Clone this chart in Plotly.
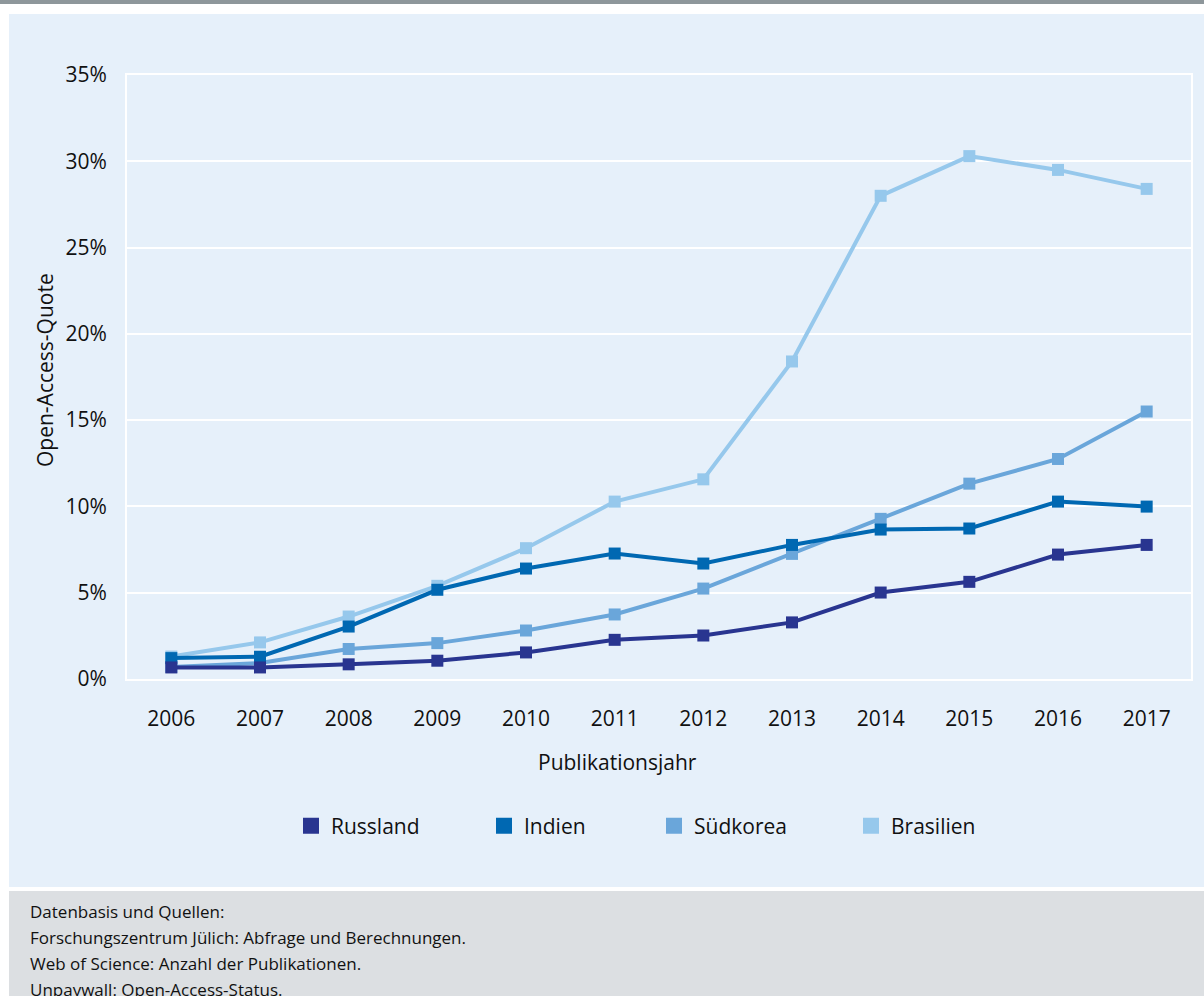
import plotly.graph_objects as go

years = ["2006", "2007", "2008", "2009", "2010", "2011", "2012", "2013", "2014", "2015", "2016", "2017"]
russland = [0.67, 0.67, 0.85, 1.06, 1.54, 2.27, 2.52, 3.28, 5.01, 5.63, 7.21, 7.77]
indien = [1.21, 1.29, 3.04, 5.17, 6.40, 7.27, 6.69, 7.77, 8.66, 8.72, 10.28, 9.99]
suedkorea = [0.70, 0.93, 1.74, 2.08, 2.81, 3.74, 5.24, 7.25, 9.28, 11.32, 12.75, 15.50]
brasilien = [1.30, 2.12, 3.62, 5.40, 7.58, 10.28, 11.57, 18.40, 28.00, 30.30, 29.50, 28.40]

series_names = ["Russland", "Indien", "Südkorea", "Brasilien"]
series_values = [russland, indien, suedkorea, brasilien]
colors = ["#293590", "#0068b2", "#6aa6da", "#96c8ec"]

y_ticks = [0, 5, 10, 15, 20, 25, 30, 35]
y_ticktext = ["0%", "5%", "10%", "15%", "20%", "25%", "30%", "35%"]

footer_lines = [
    "Datenbasis und Quellen:",
    "Forschungszentrum Jülich: Abfrage und Berechnungen.",
    "Web of Science: Anzahl der Publikationen.",
    "Unpaywall: Open-Access-Status.",
]

W, H = 1204, 996
L, R, T, B = 127, 1191, 75, 679
PW, PH = R - L, B - T


def px(x):
    return (x - L) / PW


def py(y):
    return (B - y) / PH


FONT = "Open Sans"
PANEL = "#e6f0fa"

fig = go.Figure()

# draw lines: Brasilien first, Russland last (on top)
for name, vals, col in reversed(list(zip(series_names, series_values, colors))):
    fig.add_trace(go.Scatter(
        x=years, y=vals, name=name, mode="lines+markers",
        line=dict(color=col, width=4),
        marker=dict(symbol="square", size=12, color=col),
        showlegend=False,
    ))

# legend entries (squares), each in its own legend for exact spacing
legend_x = [291, 484, 654, 851]
layout_legends = {}
for i, (name, col) in enumerate(zip(series_names, colors)):
    lname = "legend" if i == 0 else f"legend{i + 1}"
    fig.add_trace(go.Scatter(
        x=[None], y=[None], name=name, mode="markers",
        marker=dict(symbol="square", size=18, color=col),
        showlegend=True, legend=lname,
    ))
    layout_legends[lname] = dict(
        x=px(legend_x[i]), y=py(826), xanchor="left", yanchor="middle",
        orientation="h", bgcolor="rgba(0,0,0,0)", borderwidth=0,
        font=dict(family=FONT, size=21, color="#111111"),
    )

shapes = [
    dict(type="rect", xref="paper", yref="paper", x0=px(0), x1=px(W), y0=py(0), y1=py(4),
         fillcolor="#8e979b", line=dict(width=0), layer="below"),
    dict(type="rect", xref="paper", yref="paper", x0=px(9), x1=px(W), y0=py(14), y1=py(887),
         fillcolor=PANEL, line=dict(width=0), layer="below"),
    dict(type="rect", xref="paper", yref="paper", x0=px(9), x1=px(W), y0=py(891), y1=py(W),
         fillcolor="#dcdfe2", line=dict(width=0), layer="below"),
]

annotations = [
    dict(text="Open-Access-Quote", xref="paper", yref="paper", x=px(45), y=py(370),
         textangle=-90, showarrow=False, xanchor="center", yanchor="middle",
         font=dict(family=FONT, size=21, color="#111111")),
    dict(text="Publikationsjahr", xref="paper", yref="paper", x=px(617), y=py(762),
         showarrow=False, xanchor="center", yanchor="middle",
         font=dict(family=FONT, size=21, color="#111111")),
]
footer_y = [911, 937, 963, 989]
for t, yy in zip(footer_lines, footer_y):
    annotations.append(dict(text=t, xref="paper", yref="paper", x=px(28), y=py(yy),
                            showarrow=False, xanchor="left", yanchor="middle",
                            font=dict(family=FONT, size=17, color="#111111")))

fig.update_layout(
    width=W, height=H,
    margin=dict(l=L, r=W - R, t=T, b=H - B, pad=0),
    paper_bgcolor="white", plot_bgcolor=PANEL,
    font=dict(family=FONT, size=21, color="#111111"),
    shapes=shapes, annotations=annotations,
    **layout_legends,
)
fig.update_xaxes(
    type="category", range=[-0.5, 11.5], showgrid=False, zeroline=False,
    showline=True, mirror=True, linecolor="white", linewidth=2,
    ticks="", ticklabelstandoff=20,
    tickfont=dict(family=FONT, size=21, color="#111111"),
)
fig.update_yaxes(
    range=[0, 35], tickvals=y_ticks, ticktext=y_ticktext,
    showgrid=True, gridcolor="white", gridwidth=2, zeroline=False,
    showline=True, mirror=True, linecolor="white", linewidth=2,
    ticks="", ticklabelstandoff=14,
    tickfont=dict(family=FONT, size=21, color="#111111"),
)

fig.write_html("out.html")
